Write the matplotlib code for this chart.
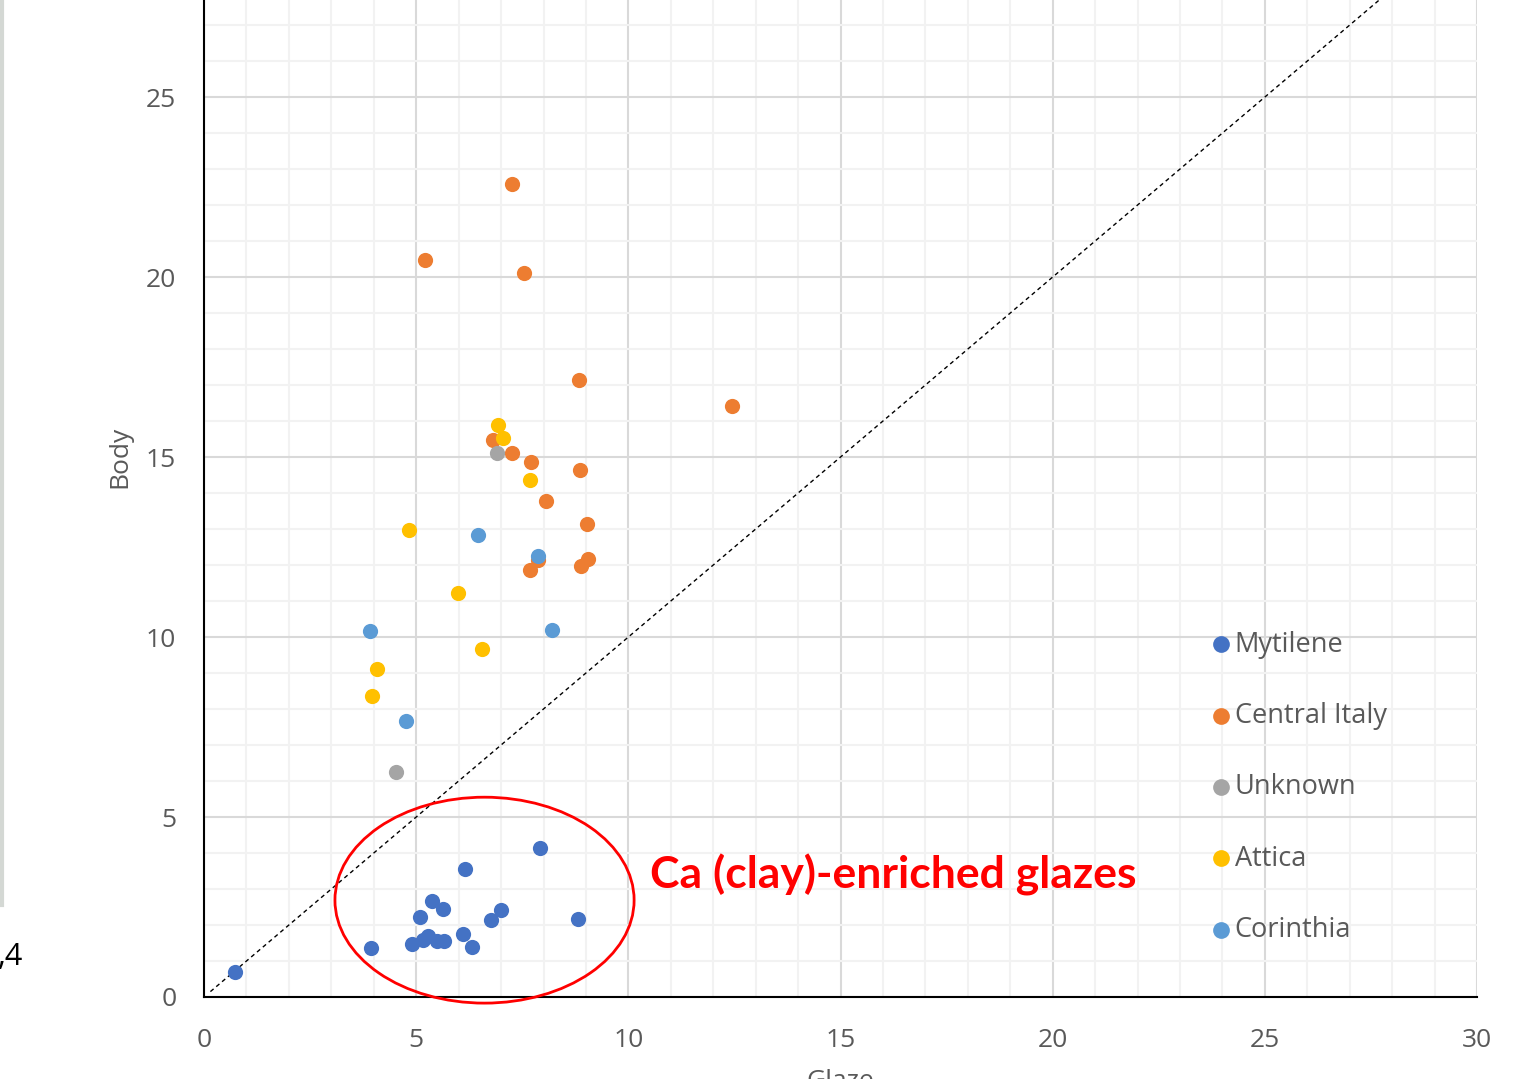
import matplotlib.pyplot as plt
from matplotlib.patches import Ellipse
from matplotlib.lines import Line2D

# values (Glaze, Body)
myt_x = [0.73, 3.94, 4.90, 5.09, 5.16, 5.28, 5.37, 5.49, 5.63, 5.66, 6.10, 6.15, 6.32, 6.76, 7.00, 7.92, 8.81]
myt_y = [0.69, 1.36, 1.47, 2.22, 1.58, 1.69, 2.67, 1.56, 2.44, 1.56, 1.75, 3.56, 1.39, 2.14, 2.42, 4.14, 2.17]

ita_x = [5.21, 7.26, 7.54, 8.84, 12.44, 6.81, 7.26, 7.71, 8.86, 8.06, 9.03, 9.05, 8.89, 7.68, 7.88]
ita_y = [20.47, 22.58, 20.11, 17.14, 16.42, 15.47, 15.11, 14.86, 14.64, 13.78, 13.14, 12.17, 11.97, 11.86, 12.15]

unk_x = [6.91, 4.52]
unk_y = [15.11, 6.25]

att_x = [6.93, 7.05, 7.68, 4.83, 5.99, 6.55, 4.08, 3.96]
att_y = [15.89, 15.53, 14.36, 12.97, 11.22, 9.67, 9.11, 8.36]

cor_x = [6.46, 7.87, 3.91, 8.20, 4.76]
cor_y = [12.83, 12.25, 10.17, 10.19, 7.67]

series = [("Mytilene", myt_x, myt_y, "#4472C4"),
          ("Central Italy", ita_x, ita_y, "#ED7D31"),
          ("Unknown", unk_x, unk_y, "#A5A5A5"),
          ("Attica", att_x, att_y, "#FFC000"),
          ("Corinthia", cor_x, cor_y, "#5B9BD5")]

plt.rcParams['font.family'] = ['Open Sans', 'DejaVu Sans']
gray = "#595959"

fig = plt.figure(figsize=(15.33, 10.79), dpi=100)
# plot area runs past the top of the picture (it was cropped)
ax = fig.add_axes([0.1331, 0.0760, 0.8304, 1.0009])

for name, xs, ys, c in series:
    ax.scatter(xs, ys, s=120, color=c, label=name, zorder=3, linewidths=0)

# y = x reference line
ax.plot([0.15, 30], [0.15, 30], color="black", lw=1.0, ls=(0, (3, 2.5)), zorder=2)

ax.set_xlim(0, 30)
ax.set_ylim(0, 30)
ax.set_xticks(range(0, 31, 5))
ax.set_yticks(range(0, 26, 5))
ax.set_xticks(range(0, 31), minor=True)
ax.set_yticks(range(0, 31), minor=True)
ax.grid(which="major", color="#d9d9d9", lw=1.5, zorder=0)
ax.grid(which="minor", color="#f2f2f2", lw=1.5, zorder=0)
ax.set_axisbelow(True)
ax.tick_params(which="both", length=0)
ax.tick_params(axis="x", pad=22, labelsize=19, labelcolor=gray)
ax.tick_params(axis="y", pad=20, labelsize=19, labelcolor=gray)
for s in ["top", "right"]:
    ax.spines[s].set_visible(False)
for s in ["left", "bottom"]:
    ax.spines[s].set_color("black")
    ax.spines[s].set_linewidth(1.5)

ax.set_xlabel("Glaze", fontsize=19, color=gray, labelpad=12)
ax.set_ylabel("Body", fontsize=19, color=gray, labelpad=10)

# red ellipse around the Ca-enriched group
ax.add_patch(Ellipse((6.61, 2.69), 7.05, 5.72, fill=False, ec="#FF0000", lw=2, clip_on=False, zorder=4))
ax.text(10.5, 3.39, "Ca (clay)-enriched glazes", color="#FF0000", fontsize=32,
        fontweight="bold", family=["Lato", "DejaVu Sans"], va="center", ha="left")

ax.legend(loc="upper left", bbox_to_anchor=(1194 / 1533, 1 - 617 / 1079), bbox_transform=fig.transFigure,
          frameon=False, fontsize=19.5, labelcolor=gray, labelspacing=1.6, handletextpad=0.0,
          handlelength=1.0, markerscale=1.1, borderpad=0)

# bits of the neighbouring chart at the left edge
fig.add_artist(Line2D([2 / 1533, 2 / 1533], [1, 1 - 905 / 1079], color="#d4d8d4", lw=3))
fig.text(-2 / 1533, 1 - 957 / 1079, ",4", fontsize=22, color="black", va="center", ha="left")

fig.savefig("out.png", dpi=100)
